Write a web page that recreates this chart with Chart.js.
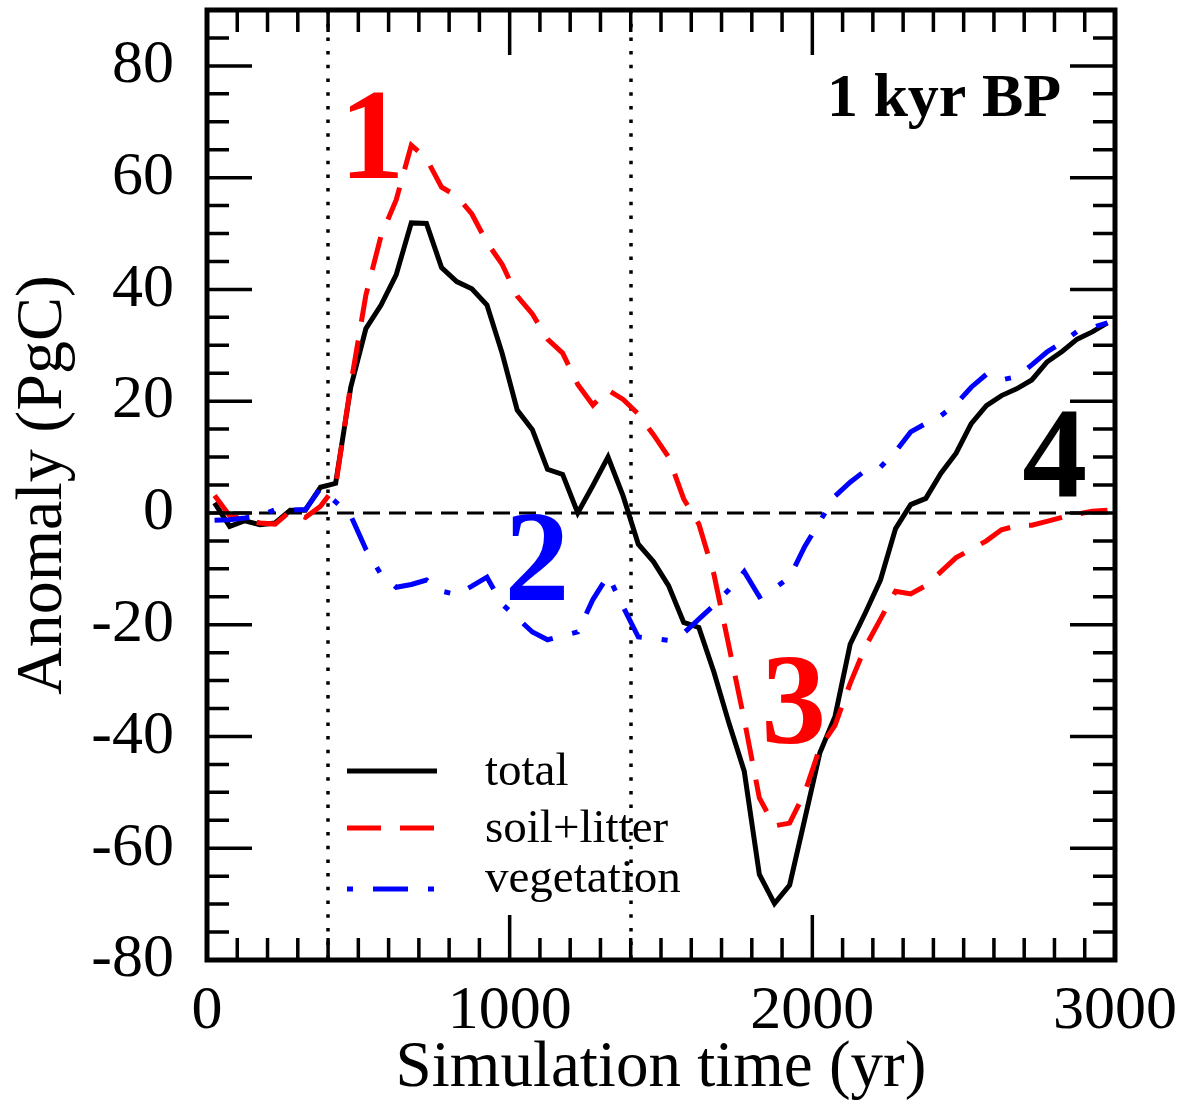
<!DOCTYPE html>
<html>
<head>
<meta charset="utf-8">
<script src="https://cdn.jsdelivr.net/npm/chart.js@4.4.1/dist/chart.umd.min.js"></script>
<style>
html,body{margin:0;padding:0;background:#fff}
canvas{display:block}
</style>
</head>
<body>
<canvas id="carbonChart" width="1191" height="1108"></canvas>
<script>
// ===== DATA (50-yr means, PgC anomaly) =====
const simYears = [25,75,125,175,225,275,325,375,425,475,525,575,625,675,725,775,825,875,925,975,
1025,1075,1125,1175,1225,1275,1325,1375,1425,1475,1525,1575,1625,1675,1725,1775,1825,1875,1925,1975,
2025,2075,2125,2175,2225,2275,2325,2375,2425,2475,2525,2575,2625,2675,2725,2775,2825,2875,2925,2975]

const totalAnom = [1.8,-2.4,-1.4,-2.1,-1.8,0.5,0.5,4.6,5.3,22.5,33.0,37.2,42.6,51.9,51.8,43.9,41.4,40.1,37.2,28.6,
18.4,14.9,7.8,6.9,0.0,4.9,10.0,3.0,-5.6,-8.7,-13.0,-19.6,-20.5,-28.5,-37.7,-46.2,-64.7,-69.9,-66.6,-54.8,
-42.9,-36.4,-23.5,-17.9,-12.0,-2.8,1.5,2.6,7.1,10.7,16.0,19.2,21.0,22.2,23.8,27.0,28.9,31.1,32.4,34.0]

const soilAnom = [3.1,-0.5,-1.2,-1.8,-2.0,0.3,-0.8,1.2,4.8,23.0,39.0,49.6,56.0,65.8,63.4,58.3,56.7,53.5,48.4,44.5,
38.8,35.6,31.1,28.6,23.0,19.3,22.0,20.3,17.7,14.0,10.0,2.5,-2.0,-11.0,-24.0,-37.0,-51.0,-56.0,-55.5,-50.0,
-42.0,-38.0,-30.5,-24.0,-19.0,-14.0,-14.5,-13.0,-10.5,-8.0,-6.5,-5.0,-3.0,-2.3,-2.2,-1.5,-0.8,-0.2,0.3,0.5]

const vegAnom = [-1.3,-1.2,-0.9,-0.5,0.6,0.5,0.6,4.4,2.0,-0.5,-6.5,-11.0,-13.3,-12.8,-12.0,-14.0,-14.6,-13.1,-11.5,-16.3,
-18.8,-21.3,-22.7,-22.0,-21.3,-15.5,-11.2,-16.8,-22.2,-22.5,-22.8,-21.5,-19.0,-16.5,-13.7,-10.5,-15.0,-13.5,-11.5,-6.0,
-1.5,3.0,5.5,7.6,8.2,11.0,14.5,16.0,17.4,19.5,22.5,24.8,23.8,24.4,26.5,28.8,30.5,32.5,33.2,34.0]

const xTickValues = [0,1000,2000,3000]
const yTickValues = [-80,-60,-40,-20,0,20,40,60,80]
const phaseBounds = [400,1400]
const phaseLabels = ["1","2","3","4"]
const periodLabel = "1 kyr BP"

const serif = "'Liberation Serif', 'Times New Roman', serif"

function toPoints(values){
return simYears.map((t,i) => ({x:t, y:values[i]}))
}

// fixed axis boxes, no automatic edge padding
function fixBox(size){
return s => {
if(s.isHorizontal()) s.height = size
else s.width = size
s.paddingTop = 0
s.paddingBottom = 0
s.paddingLeft = 0
s.paddingRight = 0
}
}


// ===== FRAME, TICKS, REFERENCE LINES, LABELS =====
const decorations = {
id:"decorations",

beforeDatasetsDraw(chart){
const {ctx, chartArea:a, scales:{x, y}} = chart
ctx.save()
ctx.strokeStyle = "#000"

// phase boundaries
ctx.lineWidth = 3.5
ctx.setLineDash([3.5,10.2])
phaseBounds.forEach(t => {
const px = Math.round(x.getPixelForValue(t))
ctx.beginPath()
ctx.moveTo(px, a.top)
ctx.lineTo(px, a.bottom)
ctx.stroke()
})

// zero line
ctx.lineWidth = 3
ctx.setLineDash([17,9])
const y0 = y.getPixelForValue(0)
ctx.beginPath()
ctx.moveTo(a.left, y0)
ctx.lineTo(a.right, y0)
ctx.stroke()
ctx.restore()
},

afterDatasetsDraw(chart){
const {ctx, chartArea:a, scales:{x, y}} = chart
ctx.save()
ctx.strokeStyle = "#000"
ctx.setLineDash([])

// inward ticks on all four sides
ctx.lineWidth = 3.5
for(let t=100; t<3000; t+=100){
const px = x.getPixelForValue(t)
const len = t % 1000 === 0 ? 45 : 22
ctx.beginPath()
ctx.moveTo(px, a.bottom); ctx.lineTo(px, a.bottom - len)
ctx.moveTo(px, a.top); ctx.lineTo(px, a.top + len)
ctx.stroke()
}
for(let v=-75; v<90; v+=5){
const py = y.getPixelForValue(v)
const len = v % 20 === 0 ? 45 : 22
ctx.beginPath()
ctx.moveTo(a.left, py); ctx.lineTo(a.left + len, py)
ctx.moveTo(a.right, py); ctx.lineTo(a.right - len, py)
ctx.stroke()
}

// frame
ctx.lineWidth = 5
ctx.strokeRect(a.left, a.top, a.right - a.left, a.bottom - a.top)

// phase numbers
ctx.textAlign = "center"
ctx.textBaseline = "alphabetic"
ctx.font = "bold 130px " + serif
const marks = [
{x:545, y:60, color:"#ff0000"},
{x:1090, y:-15.6, color:"#0000ff"},
{x:1939, y:-41.2, color:"#ff0000"},
{x:2801, y:2.8, color:"#000000"}
]
marks.forEach((m,i) => {
ctx.fillStyle = m.color
ctx.fillText(phaseLabels[i], x.getPixelForValue(m.x), y.getPixelForValue(m.y))
})

ctx.font = "bold 62px " + serif
ctx.fillStyle = "#000"
ctx.fillText(periodLabel, x.getPixelForValue(2435), y.getPixelForValue(71))

// legend
const lineRows = [771, 828, 889]
const textRows = [785, 842, 892]
chart.data.datasets.forEach((ds,i) => {
const ly = lineRows[i]
ctx.strokeStyle = ds.borderColor
ctx.lineWidth = 5
ctx.setLineDash(ds.borderDash || [])
ctx.lineDashOffset = ds.legendDashOffset || 0
ctx.beginPath()
ctx.moveTo(a.left + 140, ly)
ctx.lineTo(a.left + 230, ly)
ctx.stroke()
ctx.setLineDash([])
ctx.fillStyle = "#000"
ctx.font = "47px " + serif
ctx.textAlign = "left"
ctx.fillText(ds.label, a.left + 278, textRows[i])
})

ctx.restore()
}
}


// ===== CHART =====
const ctx = document.getElementById("carbonChart")

new Chart(ctx,{
type:"line",
data:{
datasets:[
{
label:"total",
data:toPoints(totalAnom),
borderColor:"#000000",
borderWidth:5,
order:3
},
{
label:"soil+litter",
data:toPoints(soilAnom),
borderColor:"#ff0000",
borderWidth:5,
borderDash:[34,19],
order:2
},
{
label:"vegetation",
data:toPoints(vegAnom),
borderColor:"#0000ff",
borderWidth:5,
borderDash:[35,20,6,20],
legendDashOffset:55,
order:1
}
]
},
options:{
responsive:false,
animation:false,
layout:{padding:{top:10,right:76,bottom:0,left:0}},
elements:{
point:{radius:0},
line:{tension:0,fill:false,borderJoinStyle:"miter",borderCapStyle:"butt"}
},
plugins:{legend:{display:false},tooltip:{enabled:false}},
scales:{
x:{
type:"linear",
min:0,
max:3000,
afterBuildTicks:s => { s.ticks = xTickValues.map(v => ({value:v})) },
afterFit:fixBox(148),
grid:{display:false},
border:{display:false},
ticks:{
color:"#000",
font:{family:serif,size:62,lineHeight:1},
padding:13,
maxRotation:0,
autoSkip:false,
callback:v => String(v)
},
title:{
display:true,
text:"Simulation time (yr)",
color:"#000",
font:{family:serif,size:65,lineHeight:1.2},
padding:{top:0,bottom:0}
}
},
y:{
type:"linear",
min:-80,
max:90,
afterBuildTicks:s => { s.ticks = yTickValues.map(v => ({value:v})) },
afterFit:fixBox(207),
grid:{display:false},
border:{display:false},
ticks:{
color:"#000",
font:{family:serif,size:62,lineHeight:1},
padding:25,
autoSkip:false,
callback:v => String(v)
},
title:{
display:true,
text:"Anomaly (PgC)",
color:"#000",
font:{family:serif,size:66,lineHeight:1.2},
padding:{top:4,bottom:0}
}
}
}
},
plugins:[decorations]
})
</script>
</body>
</html>
